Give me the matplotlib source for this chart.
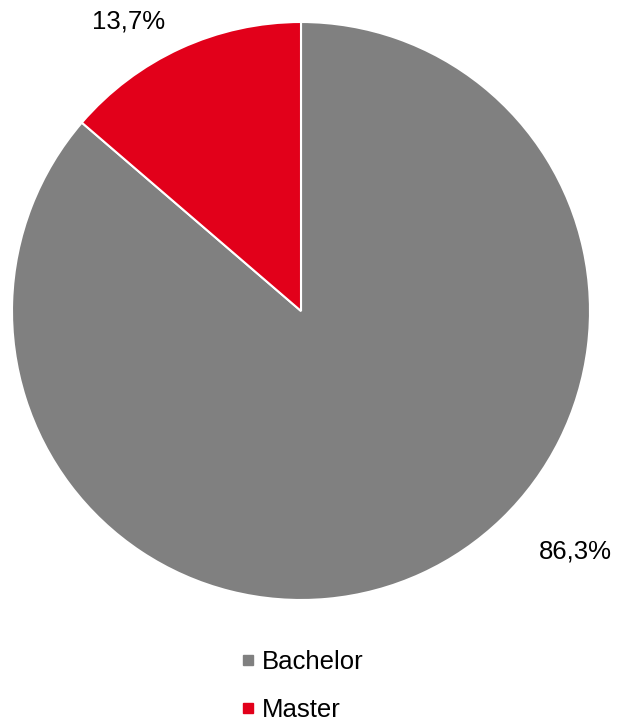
import matplotlib

matplotlib.use("Agg")
import matplotlib.pyplot as plt
from matplotlib.lines import Line2D

plt.rcParams["font.family"] = ["Liberation Sans", "DejaVu Sans"]

# data
categories = ["Bachelor", "Master"]
shares = [86.3, 13.7]
colors = ["#808080", "#E2001A"]
label_text = ["86,3%", "13,7%"]

W, H = 617, 722
fig = plt.figure(figsize=(W / 100, H / 100), dpi=100)
ax = fig.add_axes([0, 0, 1, 1])

# pixel layout, y measured from the top of the image
cx, cy, r = 301, 311, 289
ax.pie(
    shares,
    colors=colors,
    startangle=90,
    counterclock=False,
    center=(cx, H - cy),
    radius=r,
    wedgeprops=dict(edgecolor="white", linewidth=1.5),
    frame=True,
)
ax.set_xlim(0, W)
ax.set_ylim(0, H)
ax.set_aspect("equal")
ax.axis("off")

# data labels (Excel-style outside end)
label_pos = [(575, 552), (129, 22)]
for txt, (x, y) in zip(label_text, label_pos):
    ax.text(x, H - y, txt, ha="center", va="center", fontsize=18.5)

handles = [
    Line2D([], [], marker="s", linestyle="none", markersize=7.2,
           markerfacecolor=c, markeredgecolor=c)
    for c in colors
]
fig.legend(
    handles, categories,
    loc="center", bbox_to_anchor=(0.49, 0.05),
    frameon=False, fontsize=18.5,
    handlelength=0.5, handletextpad=0.3, labelspacing=0.95,
)

plt.savefig("out.png", dpi=100)
